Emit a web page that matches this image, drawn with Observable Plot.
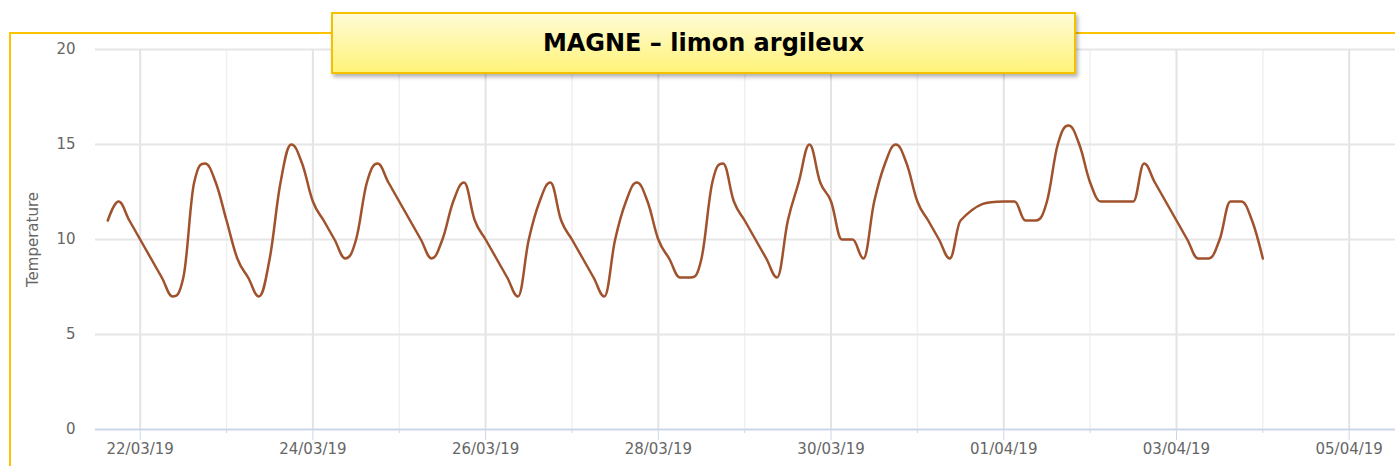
<!DOCTYPE html>
<html><head><meta charset="utf-8">
<script src="https://cdn.jsdelivr.net/npm/d3@7"></script>
<script src="https://cdn.jsdelivr.net/npm/@observablehq/plot@0.6"></script>
<style>
body{margin:0;background:#fff;}
#wrap{position:relative;width:1395px;height:466px;overflow:hidden;font-family:"DejaVu Sans",sans-serif;}
#chart{position:absolute;left:0;top:0;}
#frame{position:absolute;left:9px;top:32px;width:1400px;height:500px;border-left:2px solid #fdc200;border-top:2px solid #fdc200;}
#title{position:absolute;left:331px;top:12px;width:741px;height:58px;border:2px solid #f5c000;background:linear-gradient(#fffbd6,#fff37a);box-shadow:2px 3px 4px rgba(0,0,0,0.3);display:flex;align-items:center;justify-content:center;font-weight:bold;font-size:24px;color:#000;}
</style></head>
<body><div id="wrap"><div id="chart"></div><div id="frame"></div><div id="title">MAGNE – limon argileux</div></div>
<script>
const timestamps = [
"2019-03-21 15:00","2019-03-21 18:00","2019-03-21 21:00",
"2019-03-22 00:00","2019-03-22 03:00","2019-03-22 06:00","2019-03-22 09:00","2019-03-22 12:00","2019-03-22 15:00","2019-03-22 18:00","2019-03-22 21:00",
"2019-03-23 00:00","2019-03-23 03:00","2019-03-23 06:00","2019-03-23 09:00","2019-03-23 12:00","2019-03-23 15:00","2019-03-23 18:00","2019-03-23 21:00",
"2019-03-24 00:00","2019-03-24 03:00","2019-03-24 06:00","2019-03-24 09:00","2019-03-24 12:00","2019-03-24 15:00","2019-03-24 18:00","2019-03-24 21:00",
"2019-03-25 00:00","2019-03-25 03:00","2019-03-25 06:00","2019-03-25 09:00","2019-03-25 12:00","2019-03-25 15:00","2019-03-25 18:00","2019-03-25 21:00",
"2019-03-26 00:00","2019-03-26 03:00","2019-03-26 06:00","2019-03-26 09:00","2019-03-26 12:00","2019-03-26 15:00","2019-03-26 18:00","2019-03-26 21:00",
"2019-03-27 00:00","2019-03-27 03:00","2019-03-27 06:00","2019-03-27 09:00","2019-03-27 12:00","2019-03-27 15:00","2019-03-27 18:00","2019-03-27 21:00",
"2019-03-28 00:00","2019-03-28 03:00","2019-03-28 06:00","2019-03-28 09:00","2019-03-28 12:00","2019-03-28 15:00","2019-03-28 18:00","2019-03-28 21:00",
"2019-03-29 00:00","2019-03-29 03:00","2019-03-29 06:00","2019-03-29 09:00","2019-03-29 12:00","2019-03-29 15:00","2019-03-29 18:00","2019-03-29 21:00",
"2019-03-30 00:00","2019-03-30 03:00","2019-03-30 06:00","2019-03-30 09:00","2019-03-30 12:00","2019-03-30 15:00","2019-03-30 18:00","2019-03-30 21:00",
"2019-03-31 00:00","2019-03-31 03:00","2019-03-31 06:00","2019-03-31 09:00","2019-03-31 12:00",
"2019-04-01 00:00","2019-04-01 03:00","2019-04-01 06:00","2019-04-01 09:00","2019-04-01 12:00","2019-04-01 15:00","2019-04-01 18:00","2019-04-01 21:00",
"2019-04-02 00:00","2019-04-02 03:00","2019-04-02 06:00","2019-04-02 09:00","2019-04-02 12:00","2019-04-02 15:00","2019-04-02 18:00","2019-04-02 21:00",
"2019-04-03 00:00","2019-04-03 03:00","2019-04-03 06:00","2019-04-03 09:00","2019-04-03 12:00","2019-04-03 15:00","2019-04-03 18:00","2019-04-03 21:00",
"2019-04-04 00:00"
];
const temperatures = [
11,12,11,
10,9,8,7,8,13,14,13,
11,9,8,7,9,13,15,14,
12,11,10,9,10,13,14,13,
12,11,10,9,10,12,13,11,
10,9,8,7,10,12,13,11,
10,9,8,7,10,12,13,12,
10,9,8,8,9,13,14,12,
11,10,9,8,11,13,15,13,
12,10,10,9,12,14,15,14,
12,11,10,9,11,
12,12,11,11,12,15,16,15,
13,12,12,12,12,14,13,12,
11,10,9,9,10,12,12,11,
9
];
const labelDays = ["2019-03-22","2019-03-24","2019-03-26","2019-03-28","2019-03-30","2019-04-01","2019-04-03","2019-04-05"];
const minorDays = ["2019-03-23","2019-03-25","2019-03-27","2019-03-29","2019-03-31","2019-04-02","2019-04-04"];
const yTicks = [0,5,10,15,20];
const xStart = "2019-03-21 11:35", xEnd = "2019-04-05 12:52";

const parse = d3.timeParse("%Y-%m-%d %H:%M");
const parseDay = d3.timeParse("%Y-%m-%d");
const data = timestamps.map((t,i)=>({date: parse(t), temp: temperatures[i]}));
const major = labelDays.map(parseDay), minor = minorDays.map(parseDay);

// Spline curve in the style of Highcharts (smoothing 1.5, no false extremes)
function splineCurve(context) {
  let pts;
  return {
    areaStart(){}, areaEnd(){},
    lineStart(){ pts = []; },
    point(x, y){ pts.push([+x, +y]); },
    lineEnd(){
      const n = pts.length; if (!n) return;
      const s = 1.5, den = s + 1;
      const rc = new Array(n);
      context.moveTo(pts[0][0], pts[0][1]);
      for (let i = 1; i < n; i++) {
        const [x, y] = pts[i];
        const [lx, ly] = pts[i-1];
        let lcx = x, lcy = y, rcx = null, rcy = null;
        if (i < n-1) {
          const [nx, ny] = pts[i+1];
          lcx = (s*x + lx)/den; lcy = (s*y + ly)/den;
          rcx = (s*x + nx)/den; rcy = (s*y + ny)/den;
          let corr = 0;
          if (rcx !== lcx) corr = ((rcy - lcy)*(rcx - x))/(rcx - lcx) + y - rcy;
          lcy += corr; rcy += corr;
          if (lcy > ly && lcy > y) { lcy = Math.max(ly, y); rcy = 2*y - lcy; }
          else if (lcy < ly && lcy < y) { lcy = Math.min(ly, y); rcy = 2*y - lcy; }
          if (rcy > ny && rcy > y) { rcy = Math.max(ny, y); lcy = 2*y - rcy; }
          else if (rcy < ny && rcy < y) { rcy = Math.min(ny, y); lcy = 2*y - rcy; }
        }
        const prev = rc[i-1] || [lx, ly];
        context.bezierCurveTo(prev[0], prev[1], lcx, lcy, x, y);
        if (rcx !== null) rc[i] = [rcx, rcy];
      }
    }
  };
}

const chart = Plot.plot({
  width:1395, height:466,
  marginLeft:95, marginRight:0, marginTop:49, marginBottom:37,
  style:{fontFamily:"DejaVu Sans, sans-serif", background:"transparent", overflow:"visible"},
  x:{type:"time", domain:[parse(xStart), parse(xEnd)]},
  y:{domain:[0,20]},
  marks:[
    Plot.ruleX(minor, {stroke:"#f0f0f0", strokeWidth:1.5}),
    Plot.ruleX(major, {stroke:"#e3e3e3", strokeWidth:2}),
    Plot.ruleY(yTicks.filter(d=>d>0), {stroke:"#e6e6e6", strokeWidth:2}),
    Plot.ruleY([0], {stroke:"#ccd6eb", strokeWidth:2}),
    Plot.axisX({ticks: major, tickSize:11, tickPadding:3, tickFormat: d3.timeFormat("%d/%m/%y"), stroke:"#ccd6eb", fill:"#666", fontSize:15, label:null}),
    Plot.axisX({ticks: minor, tickSize:4, tickFormat: ()=>"", stroke:"#ccd6eb", label:null}),
    Plot.axisY({ticks: yTicks, tickSize:0, tickPadding:20, fill:"#666", fontSize:15, label:null}),
    Plot.text(["Temperature"], {frameAnchor:"left", textAnchor:"middle", rotate:-90, dx:-62, fill:"#666", fontSize:15}),
    Plot.line(data, {x:"date", y:"temp", curve:splineCurve, stroke:"#a0522d", strokeWidth:2.5})
  ]
});
document.getElementById("chart").appendChild(chart);
</script></body></html>
